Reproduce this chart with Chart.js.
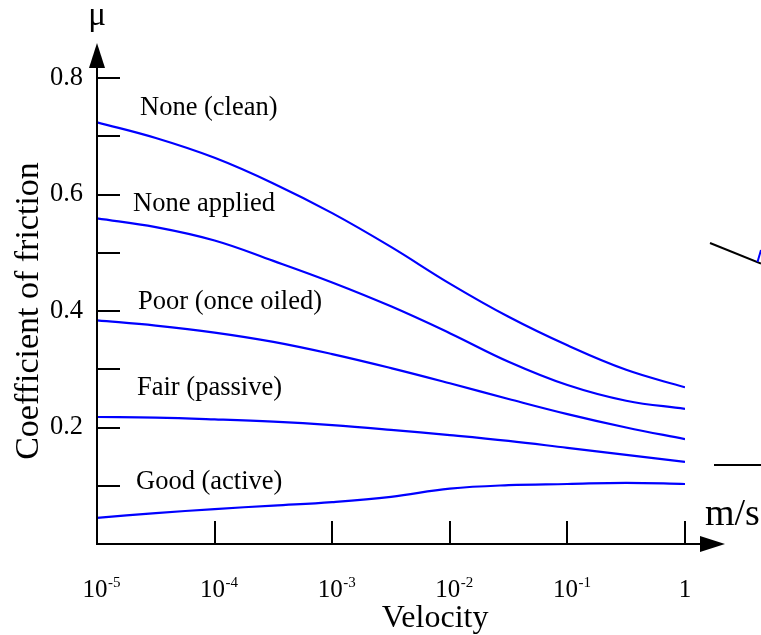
<!DOCTYPE html>
<html><head><meta charset="utf-8">
<script src="https://cdn.jsdelivr.net/npm/chart.js@4"></script>
<style>html,body{margin:0;padding:0;background:#fff}#wrap{width:761px;height:635px}</style>
</head><body><div id="wrap"><canvas id="c" width="761" height="635"></canvas></div>
<script>
// ---- data ----
const velocity = [1e-5, 3.16e-5, 1e-4, 3.16e-4, 1e-3, 3.16e-3, 1e-2, 3.16e-2, 1e-1, 3.16e-1, 1];
const noneClean     = [0.724, 0.697, 0.663, 0.619, 0.568, 0.510, 0.447, 0.390, 0.341, 0.299, 0.269];
const noneApplied   = [0.559, 0.544, 0.521, 0.486, 0.449, 0.408, 0.362, 0.313, 0.273, 0.246, 0.232];
const poorOnceOiled = [0.384, 0.375, 0.363, 0.347, 0.326, 0.302, 0.276, 0.249, 0.223, 0.200, 0.180];
const fairPassive   = [0.218, 0.217, 0.214, 0.210, 0.204, 0.196, 0.187, 0.177, 0.165, 0.153, 0.141];
const goodActive    = [0.045, 0.053, 0.060, 0.066, 0.072, 0.081, 0.095, 0.101, 0.103, 0.105, 0.103];
const seriesNames = ['None (clean)', 'None applied', 'Poor (once oiled)', 'Fair (passive)', 'Good (active)'];
const seriesValues = [noneClean, noneApplied, poorOnceOiled, fairPassive, goodActive];
const xTickValues = [1e-5, 1e-4, 1e-3, 1e-2, 1e-1, 1];
const xTickBase = ['10', '10', '10', '10', '10', '1'];
const xTickExp = ['-5', '-4', '-3', '-2', '-1', ''];
const yTickValues = [0.1, 0.2, 0.3, 0.4, 0.5, 0.6, 0.7, 0.8];
const yLabelled = ['0.2', '0.4', '0.6', '0.8'];
const xTitle = 'Velocity';
const yTitle = 'Coefficient of friction';
const yUnit = 'μ';
const xUnit = 'm/s';
// series label anchors (mu value at the text baseline)
const labelMu = [0.737, 0.571, 0.403, 0.255, 0.094];

// ---- layout / style ----
const SERIF = "'Liberation Serif', 'Times New Roman', serif";
const BLUE = '#0000ff';
const labelOffsetX = [43, 36, 41, 40, 39];

const decor = {
  id: 'decor',
  afterDraw(chart) {
    const {ctx, chartArea: a, scales: {x, y}} = chart;
    ctx.save();
    ctx.strokeStyle = '#000'; ctx.fillStyle = '#000'; ctx.lineWidth = 2; ctx.lineCap = 'butt';
    // y axis with arrow
    ctx.beginPath(); ctx.moveTo(a.left, a.bottom + 1); ctx.lineTo(a.left, a.top - 12); ctx.stroke();
    ctx.beginPath(); ctx.moveTo(a.left, a.top - 35); ctx.lineTo(a.left - 8, a.top - 10); ctx.lineTo(a.left + 8, a.top - 10); ctx.closePath(); ctx.fill();
    // x axis with arrow
    ctx.beginPath(); ctx.moveTo(a.left - 1, a.bottom); ctx.lineTo(a.right + 17, a.bottom); ctx.stroke();
    ctx.beginPath(); ctx.moveTo(a.right + 40, a.bottom); ctx.lineTo(a.right + 15, a.bottom - 8); ctx.lineTo(a.right + 15, a.bottom + 8); ctx.closePath(); ctx.fill();
    // inward tick marks
    yTickValues.forEach(v => {
      const py = Math.round(y.getPixelForValue(v));
      ctx.beginPath(); ctx.moveTo(a.left, py); ctx.lineTo(a.left + 23, py); ctx.stroke();
    });
    xTickValues.slice(1).forEach(v => {
      const px = Math.round(x.getPixelForValue(v));
      ctx.beginPath(); ctx.moveTo(px, a.bottom); ctx.lineTo(px, a.bottom - 23); ctx.stroke();
    });
    // x tick labels with superscripts
    ctx.textBaseline = 'alphabetic';
    xTickValues.forEach((v, i) => {
      const px = x.getPixelForValue(v);
      ctx.font = '25px ' + SERIF;
      const w = ctx.measureText(xTickBase[i]).width;
      if (xTickExp[i]) {
        ctx.textAlign = 'left';
        ctx.fillText(xTickBase[i], px - 2 - w / 2, a.bottom + 53);
        ctx.font = '15px ' + SERIF;
        ctx.fillText(xTickExp[i], px - 2 + w / 2 + 0.5, a.bottom + 43);
      } else {
        ctx.textAlign = 'center';
        ctx.fillText(xTickBase[i], px, a.bottom + 53);
      }
    });
    // x title
    ctx.font = '32px ' + SERIF; ctx.textAlign = 'center';
    ctx.fillText(xTitle, a.left + 0.575 * (a.right - a.left), a.bottom + 83);
    // units
    ctx.font = '33px ' + SERIF; ctx.textAlign = 'center';
    ctx.fillText(yUnit, a.left, a.top - 53);
    ctx.font = '38px ' + SERIF; ctx.textAlign = 'left';
    ctx.fillText(xUnit, a.right + 20, a.bottom - 19);
    // series labels
    ctx.font = '26.5px ' + SERIF; ctx.textAlign = 'left';
    seriesNames.forEach((n, i) => {
      ctx.fillText(n, a.left + labelOffsetX[i], y.getPixelForValue(labelMu[i]));
    });
    // cropped fragments of a neighbouring drawing at the right edge
    ctx.beginPath(); ctx.moveTo(710, 243); ctx.lineTo(761, 263.5); ctx.stroke();
    ctx.beginPath(); ctx.moveTo(714, 465); ctx.lineTo(761, 465); ctx.stroke();
    ctx.strokeStyle = BLUE;
    ctx.beginPath(); ctx.moveTo(757.5, 262); ctx.lineTo(761, 250); ctx.stroke();
    ctx.restore();
  }
};

new Chart(document.getElementById('c'), {
  type: 'line',
  data: {
    labels: velocity,
    datasets: seriesValues.map((vals, i) => ({
      label: seriesNames[i],
      data: velocity.map((v, j) => ({x: v, y: vals[j]})),
      borderColor: BLUE,
      backgroundColor: BLUE,
      borderWidth: 2.2,
      pointRadius: 0,
      fill: false,
      tension: 0.4
    }))
  },
  options: {
    responsive: false,
    animation: false,
    devicePixelRatio: 1,
    layout: {padding: {top: 78, right: 76, bottom: 0, left: 0}},
    plugins: {legend: {display: false}, tooltip: {enabled: false}},
    scales: {
      x: {
        type: 'logarithmic', min: 1e-5, max: 1,
        grid: {display: false, drawTicks: false},
        border: {display: false},
        ticks: {display: false},
        afterFit(s) { s.height = 91; }
      },
      y: {
        type: 'linear', min: 0, max: 0.8,
        grid: {display: false, drawTicks: false},
        border: {display: false},
        ticks: {
          stepSize: 0.1, padding: 14, color: '#000',
          font: {family: SERIF, size: 26.5},
          callback: (v) => { const s = (Math.round(v * 10) / 10).toFixed(1); return yLabelled.includes(s) ? s : ''; }
        },
        title: {display: true, text: yTitle, color: '#000', font: {family: SERIF, size: 34}, padding: {top: 9, bottom: 0}},
        afterFit(s) { s.width = 97; }
      }
    }
  },
  plugins: [decor]
});
</script>
</body></html>
